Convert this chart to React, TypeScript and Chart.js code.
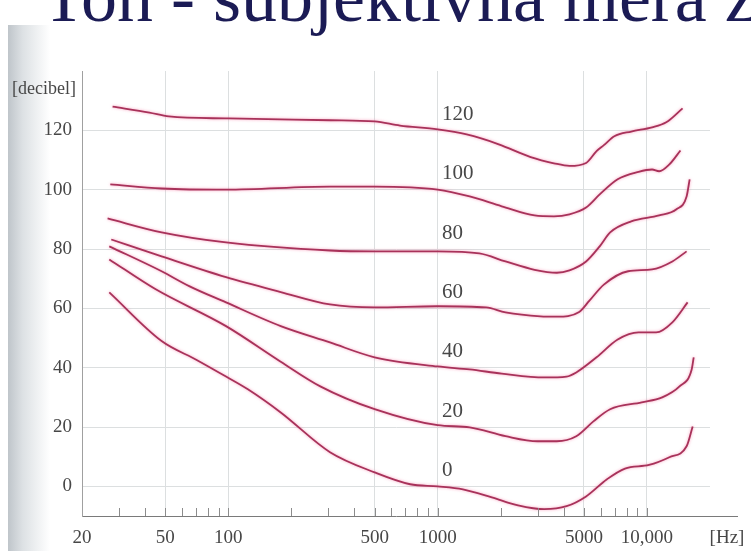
import React, { useEffect, useRef } from "react";
import { Chart, registerables } from "chart.js";

Chart.register(...registerables);

// Loudness levels (phon) of each contour
const levels = [120, 100, 80, 60, 40, 20, 0];

// Frequencies [Hz] and sound pressure levels [dB]
const f120 = [28, 42, 52, 100, 306, 500, 661, 1000, 1376, 1958, 2782, 3593, 4263, 5118, 5743, 6223, 6983, 8409, 10573, 12360, 14790];
const db120 = [128, 126, 124.7, 124, 123.4, 123, 121.6, 120.3, 118.6, 115.3, 111, 108.9, 108, 109, 113, 115, 118, 119.6, 121, 122.7, 127.4];

const f100 = [27.3, 48, 97.5, 306, 500, 1000, 1422, 2023, 2904, 3593, 4263, 5118, 5944, 7244, 9116, 10573, 11430, 12790, 14450];
const db100 = [101.8, 100.4, 100, 101, 101, 100, 97.7, 94.4, 91.3, 91, 91.7, 94, 98.4, 103.5, 106, 106.8, 106.2, 108.5, 113.2];

const f80 = [26.5, 48, 97.5, 306, 500, 1000, 1582, 2109, 2904, 3709, 4263, 5118, 5944, 6668, 8409, 11430, 13830, 15460, 15990];
const db80 = [90.3, 85.6, 82.2, 79.5, 79.2, 79.2, 78.5, 75.8, 73, 72, 72.8, 75.8, 80.9, 85.6, 89.3, 91.3, 93.4, 97.7, 103.5];

const f60 = [27.6, 48, 97.5, 178, 306, 500, 1000, 1704, 2109, 3097, 3709, 4744, 5297, 6223, 8124, 10573, 13220, 15460];
const db60 = [83.2, 77.5, 70.5, 65.5, 61.3, 60.3, 60.7, 60.3, 58.6, 57.3, 57.2, 58.8, 62.5, 68, 72.5, 73.1, 75.8, 79.2];

const f40 = [27, 48, 65, 97.5, 178, 306, 500, 1000, 1422, 2023, 3230, 4128, 4594, 5743, 7244, 9116, 11060, 13220, 15630];
const db40 = [80.9, 72.5, 67.5, 62, 54, 48.5, 43.5, 40.4, 39.4, 38, 36.7, 37, 38.4, 43.5, 49.5, 51.9, 51.9, 55.3, 62];

const f20 = [27, 45, 97.5, 178, 275, 500, 1000, 1422, 2109, 2998, 3709, 4594, 5548, 6668, 9437, 11820, 14300, 16350, 16720];
const db20 = [76.5, 66.4, 54, 42, 33.7, 26, 20.6, 19.9, 16.9, 15.2, 15.2, 16.9, 21.9, 26, 28.3, 30, 33.7, 39.4, 43.5];

const f0 = [27, 48, 70.6, 97.5, 124, 178, 306, 500, 739, 1000, 1320, 1815, 2422, 3230, 4128, 5118, 6441, 7850, 10226, 12790, 15460, 16530];
const db0 = [65.4, 49, 42.6, 37, 32.7, 24.9, 11.5, 4.7, 0.7, 0, -1, -3.7, -6.4, -7.7, -6.7, -3.4, 2.4, 6, 7.2, 9.8, 13.5, 20.2];

// Axis ticks
const xTickValues = [20, 50, 100, 500, 1000, 5000, 10000];
const xTickLabels = ["20", "50", "100", "500", "1000", "5000", "10,000"];
const xGridValues = [50, 100, 500, 1000, 5000, 10000];
const xMinorTicks = [30, 40, 50, 60, 70, 80, 90, 100, 200, 300, 400, 500, 600, 700, 800, 900, 1000, 2000, 3000, 4000, 5000, 6000, 7000, 8000, 9000, 10000];
const yTickValues = [0, 20, 40, 60, 80, 100, 120];

const curveFreqs = [f120, f100, f80, f60, f40, f20, f0];
const curveDbs = [db120, db100, db80, db60, db40, db20, db0];

const SERIF = '"Liberation Serif", "Times New Roman", serif';
const TEXT = "#474747";
const LINE = "#a8325a";

export default function App() {
  const ref = useRef<HTMLCanvasElement>(null);

  useEffect(() => {
    const canvas = ref.current;
    if (!canvas) return;

    const datasets = levels.map((lvl, k) => ({
      label: String(lvl),
      data: curveFreqs[k].map((x, i) => ({ x, y: curveDbs[k][i] })),
      borderColor: LINE,
      borderWidth: 1.8,
      pointRadius: 0,
      fill: false,
      cubicInterpolationMode: "monotone" as const,
    }));

    const decor = {
      id: "decor",
      beforeDatasetsDraw(chart: any) {
        const ctx = chart.ctx;
        ctx.save();
        ctx.shadowColor = "rgba(245, 95, 145, 0.6)";
        ctx.shadowBlur = 3;
      },
      afterDatasetsDraw(chart: any) {
        chart.ctx.restore();
      },
      afterDraw(chart: any) {
        const { ctx, chartArea, scales } = chart;
        const xs = scales.x;
        const ys = scales.y;
        ctx.save();
        // small tick marks along the frequency axis
        ctx.strokeStyle = "#8c8c8c";
        ctx.lineWidth = 1;
        xMinorTicks.forEach((v) => {
          const px = Math.round(xs.getPixelForValue(v)) + 0.5;
          ctx.beginPath();
          ctx.moveTo(px, chartArea.bottom);
          ctx.lineTo(px, chartArea.bottom - 8);
          ctx.stroke();
        });
        // axis line continues past the last gridline
        ctx.strokeStyle = "#7a7a7a";
        ctx.beginPath();
        ctx.moveTo(chartArea.right, chartArea.bottom + 0.5);
        ctx.lineTo(chartArea.right + 28, chartArea.bottom + 0.5);
        ctx.stroke();
        // contour labels
        ctx.fillStyle = TEXT;
        ctx.font = `21px ${SERIF}`;
        ctx.textAlign = "left";
        ctx.textBaseline = "middle";
        levels.forEach((l) => {
          ctx.fillText(String(l), xs.getPixelForValue(1050), ys.getPixelForValue(l + 5.3));
        });
        // unit labels
        ctx.font = `18px ${SERIF}`;
        ctx.fillText("[decibel]", chartArea.left - 70, chartArea.top + 18);
        ctx.font = `19px ${SERIF}`;
        ctx.textAlign = "center";
        ctx.fillText("[Hz]", chartArea.right + 17, chartArea.bottom + 22);
        ctx.restore();
      },
    };

    const chart = new Chart(canvas, {
      type: "line",
      data: { datasets },
      options: {
        animation: false,
        responsive: false,
        maintainAspectRatio: false,
        layout: { padding: { left: 0, top: 71, right: 41, bottom: 0 } },
        plugins: { legend: { display: false }, tooltip: { enabled: false } },
        scales: {
          x: {
            type: "logarithmic",
            min: 20,
            max: 20000,
            afterBuildTicks: (s: any) => {
              s.ticks = xTickValues.map((v) => ({ value: v }));
            },
            afterFit: (s: any) => {
              s.height = 35;
            },
            grid: {
              drawTicks: false,
              lineWidth: 1,
              color: (c: any) => (c.tick && xGridValues.includes(c.tick.value) ? "#dcdfe0" : "rgba(0,0,0,0)"),
            },
            border: { color: "#7a7a7a", width: 1 },
            ticks: {
              autoSkip: false,
              maxRotation: 0,
              padding: 11,
              color: TEXT,
              font: { family: SERIF, size: 19 },
              callback: (_v: any, i: number) => xTickLabels[i],
            },
          },
          y: {
            type: "linear",
            min: -10,
            max: 140,
            afterBuildTicks: (s: any) => {
              s.ticks = yTickValues.map((v) => ({ value: v }));
            },
            afterFit: (s: any) => {
              s.width = 82;
            },
            grid: { drawTicks: false, color: "#dcdfe0", lineWidth: 1 },
            border: { color: "#a0a0a0", width: 1 },
            ticks: {
              padding: 10,
              color: TEXT,
              font: { family: SERIF, size: 19 },
              callback: (v: any) => String(v),
            },
          },
        },
      },
      plugins: [decor],
    } as any);

    return () => chart.destroy();
  }, []);

  return (
    <div
      style={{
        position: "absolute",
        left: 0,
        top: 0,
        width: 751,
        height: 551,
        overflow: "hidden",
        background: "#ffffff",
      }}
    >
      <div
        style={{
          position: "absolute",
          left: 8,
          top: 25,
          width: 42,
          height: 526,
          background: "linear-gradient(to right, #bfc5ca 0%, #dde1e4 35%, rgba(255,255,255,0) 100%)",
        }}
      />
      <div
        style={{
          position: "absolute",
          left: 42,
          top: -39,
          fontFamily: SERIF,
          fontSize: 72,
          lineHeight: 1,
          color: "#1b1b55",
          whiteSpace: "nowrap",
        }}
      >
        Ton - subjektivna mera za jačinu zvuka
      </div>
      <canvas ref={ref} width={751} height={551} style={{ position: "absolute", left: 0, top: 0 }} />
    </div>
  );
}
